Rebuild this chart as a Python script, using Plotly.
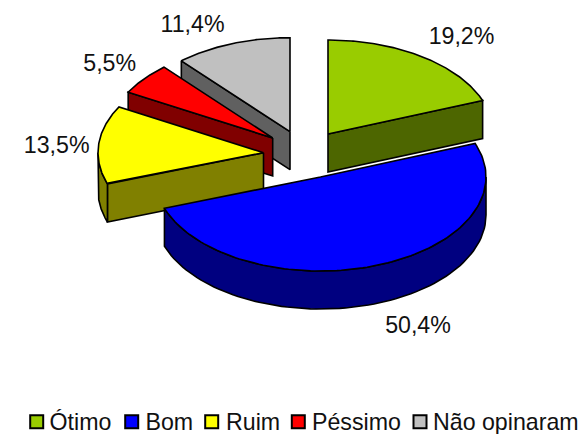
import numpy as np
import plotly.graph_objects as go

categories = ["Ótimo", "Bom", "Ruim", "Péssimo", "Não opinaram"]
values = [19.2, 50.4, 13.5, 5.5, 11.4]
top_colors = ["#99CC00", "#0000FF", "#FFFF00", "#FF0000", "#C0C0C0"]
side_colors = ["#4D6600", "#000080", "#808000", "#800000", "#606060"]

# geometry of the projected pie (pixels)
apex = [(328, 134), (320.5, 177), (263.5, 152.7), (272.7, 138), (290, 131.7)]
label_pos = [(461.5, 38), (418, 327), (56.7, 147), (109.7, 65), (192.5, 26)]
legend_box_x = [36.7, 131.7, 211.7, 298.3, 420]
legend_text_x = [49.5, 145.5, 226, 312, 433]
legend_y = 421.7
legend_text_y = 424
RX, RY, DEPTH = 165.5, 94, 38
FONT = dict(family="Liberation Sans, Arial, sans-serif", size=23.2, color="#111111")

total = sum(values)
edges = np.concatenate([[0], np.cumsum(values)]) / total * 2 * np.pi


def pt(c, a, r=1.0, dz=0.0):
    return c[0] + RX * r * np.sin(a), c[1] - RY * r * np.cos(a) + dz


fig = go.Figure()


def poly(xs, ys, fill):
    xs, ys = list(xs), list(ys)
    fig.add_trace(go.Scatter(
        x=xs + xs[:1], y=ys + ys[:1], mode="lines", fill="toself", fillcolor=fill,
        line=dict(color="black", width=1.6, shape="linear"), hoverinfo="skip"))


# back-to-front painter order
for i in [4, 3, 2, 0, 1]:
    c, a, b = apex[i], edges[i], edges[i + 1]
    # flat radial faces that look towards the viewer
    for ang, vis in ((a, np.sin(a) < -1e-6), (b, np.sin(b) > 1e-6)):
        if vis:
            x1, y1 = pt(c, ang)
            poly([c[0], x1, x1, c[0]], [c[1], y1, y1 + DEPTH, c[1] + DEPTH], side_colors[i])
    # curved outer wall
    lo, hi = max(a, np.pi / 2), min(b, 3 * np.pi / 2)
    if hi > lo:
        t = np.linspace(lo, hi, 80)
        xa, ya = pt(c, t)
        poly(np.r_[xa, xa[::-1]], np.r_[ya, (ya + DEPTH)[::-1]], side_colors[i])
    # top surface
    t = np.linspace(a, b, 120)
    xa, ya = pt(c, t)
    poly(np.r_[c[0], xa], np.r_[c[1], ya], top_colors[i])

# data labels
fig.add_trace(go.Scatter(
    x=[p[0] for p in label_pos], y=[p[1] for p in label_pos], mode="text",
    text=[f"{v:.1f}%".replace(".", ",") for v in values],
    textposition="middle center", textfont=FONT, hoverinfo="skip", cliponaxis=False))

# legend
fig.add_trace(go.Scatter(
    x=legend_box_x, y=[legend_y] * 5, mode="markers",
    marker=dict(symbol="square", size=13, color=top_colors, line=dict(color="black", width=2)),
    hoverinfo="skip", cliponaxis=False))
fig.add_trace(go.Scatter(
    x=legend_text_x, y=[legend_text_y] * 5, mode="text", text=categories,
    textposition="middle right", textfont=FONT, hoverinfo="skip", cliponaxis=False))

fig.update_layout(
    width=584, height=434, showlegend=False,
    margin=dict(l=0, r=0, t=0, b=0),
    paper_bgcolor="white", plot_bgcolor="white",
    xaxis=dict(range=[0, 584], visible=False, fixedrange=True),
    yaxis=dict(range=[434, 0], visible=False, fixedrange=True),
)
fig.write_html("out.html", config=dict(displayModeBar=False),
               post_script="document.body.style.margin='0';document.body.style.overflow='hidden';")
